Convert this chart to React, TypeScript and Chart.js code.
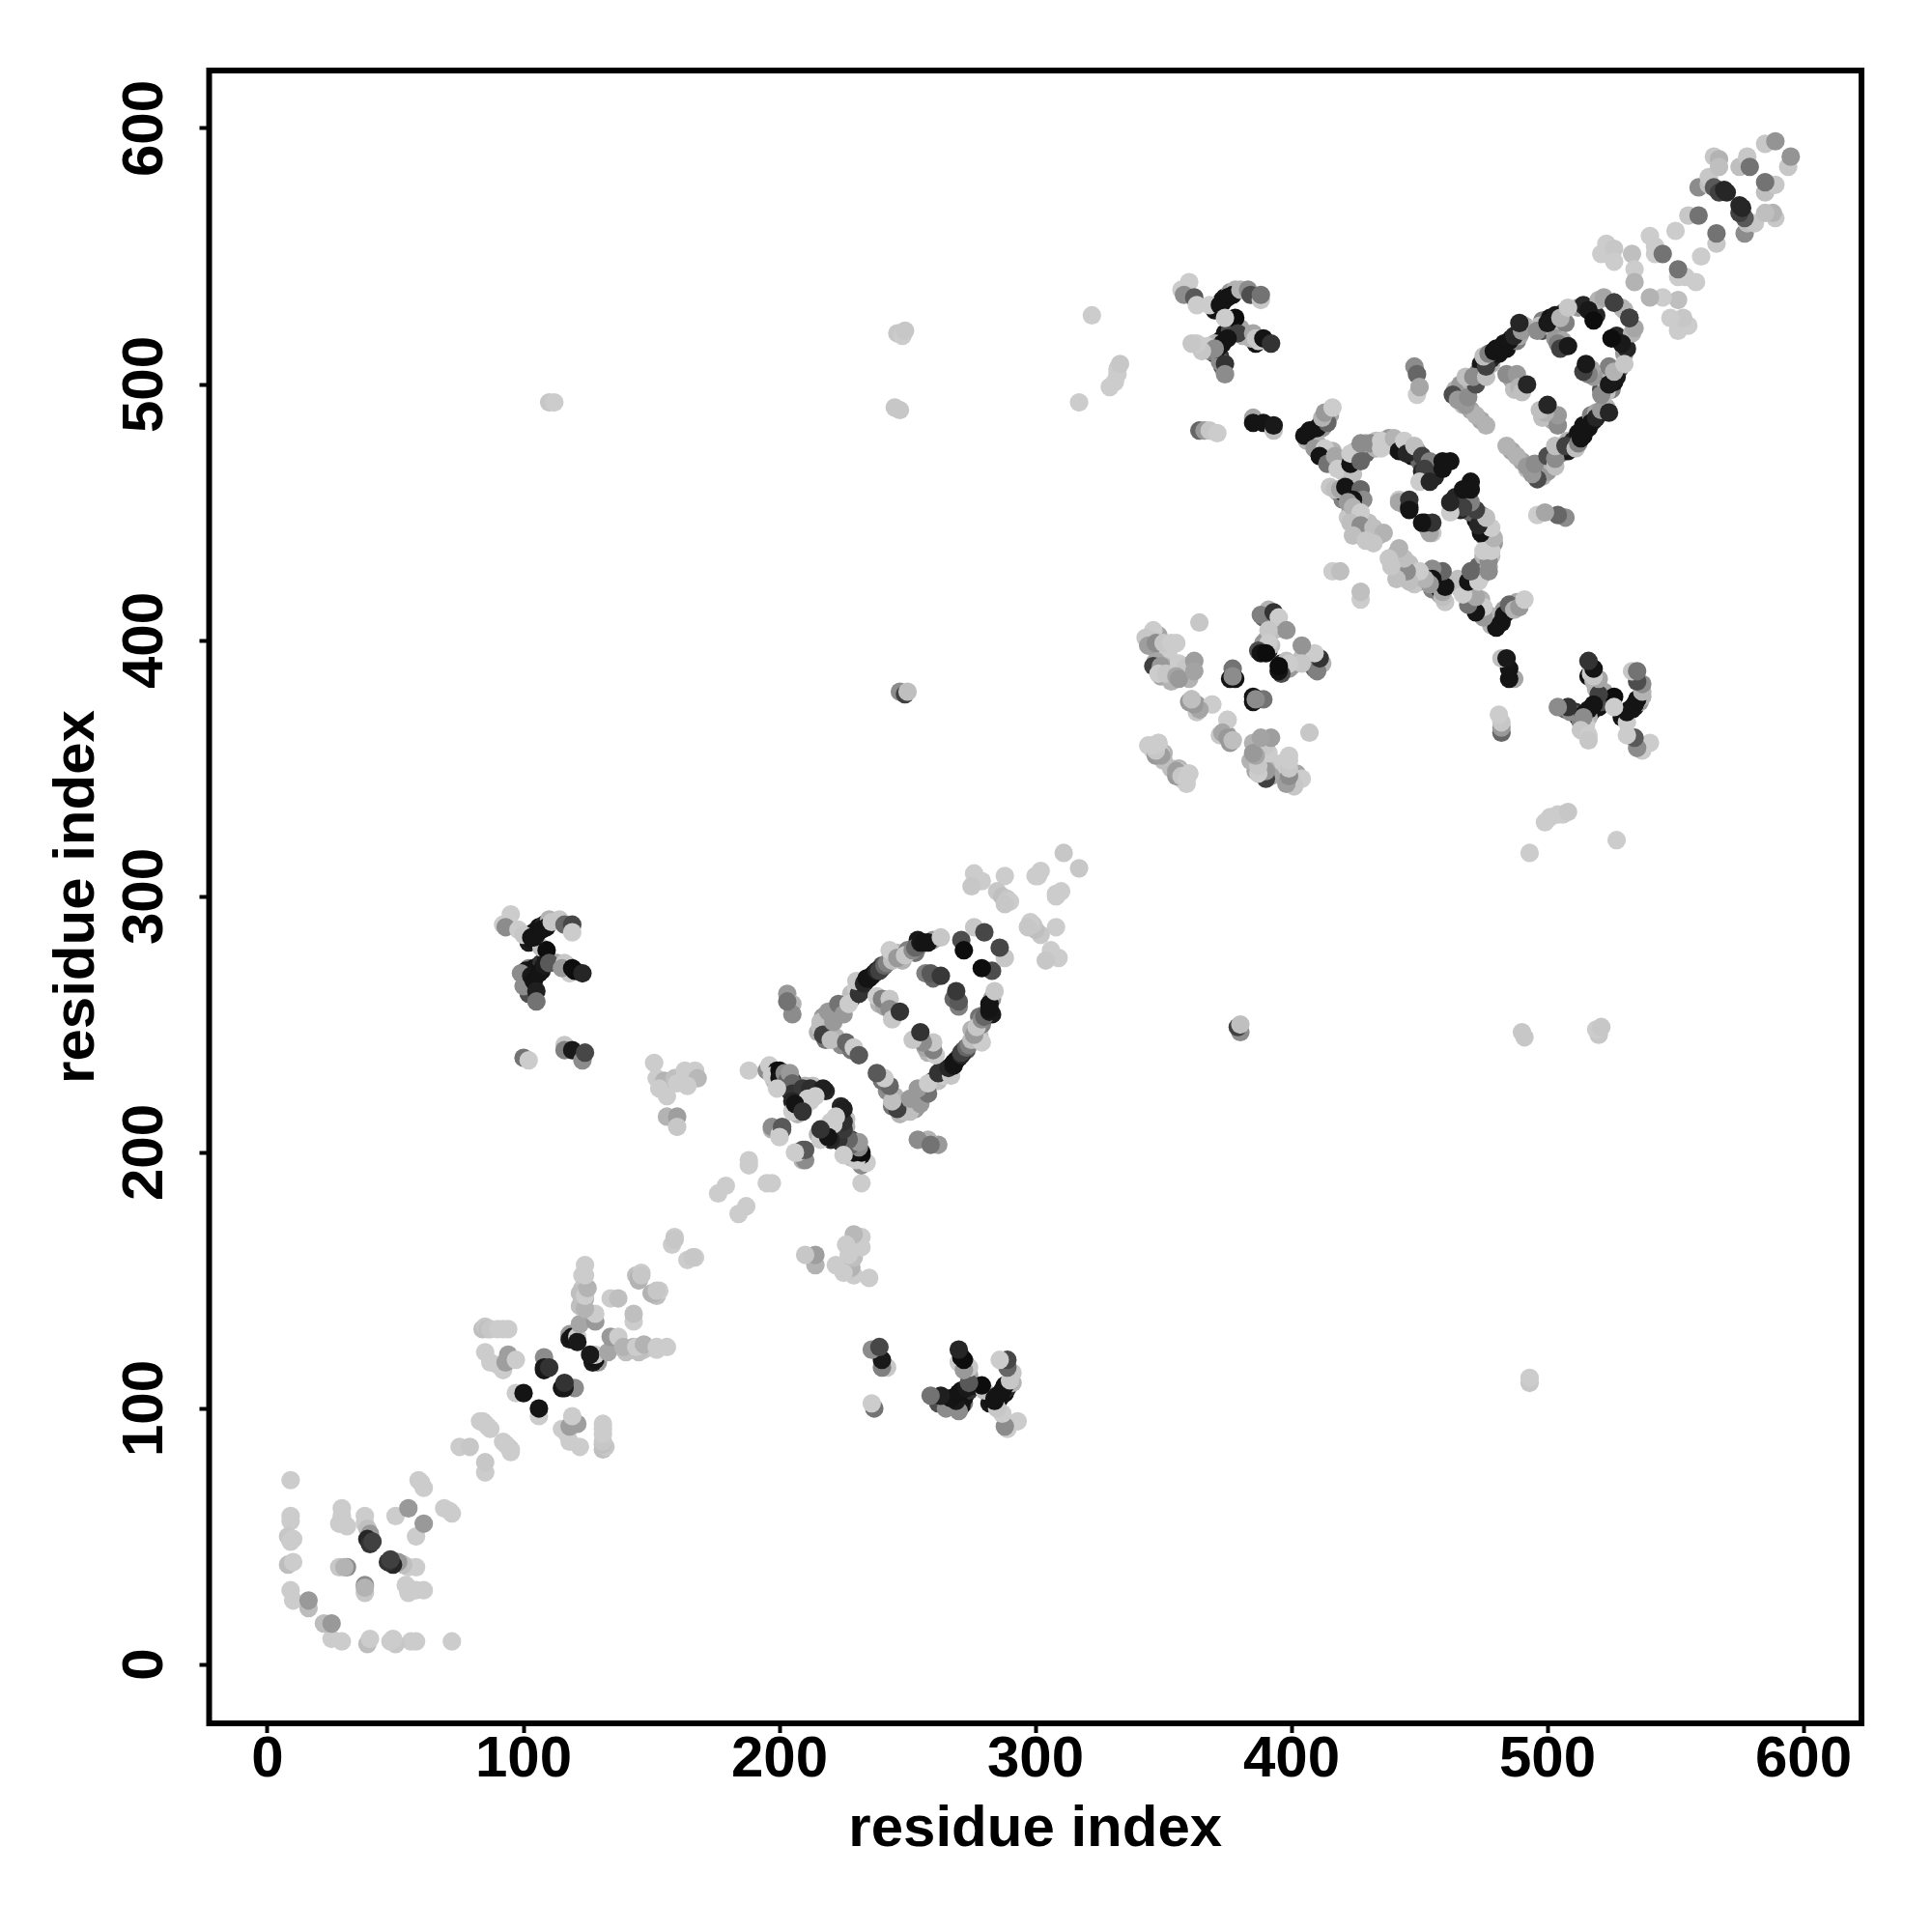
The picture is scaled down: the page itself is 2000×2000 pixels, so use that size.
import React, { useEffect, useRef } from "react";
import { Chart, registerables } from "chart.js";

Chart.register(...registerables);

type Contact = [number, number, number];

const tickValues = [0, 100, 200, 300, 400, 500, 600];
const axisTitle = "residue index";

const contactsN: Contact[] = [
  [9,72,.2],[9,58,.2],[9,56,.2],[8,50,.22],[10,49,.2],[9,48,.2],[8,39,.26],[10,40,.2],[9,29,.2],[10,25,.2],[16,22,.26],[16,25,.4],
  [28,38,.22],[31,38,.45],[30,38,.3],[29,61,.2],[29,58,.2],[28,55,.2],[30,55,.2],[31,54,.2],[38,58,.2],[38,55,.2],[39,53,.25],
  [40,51,.4],[39,49,.85],[40,47,.8],[41,48,.75],[50,58,.2],[55,61,.4],[59,72,.2],[60,71,.2],[61,69,.2],
];
const contactsA: Contact[] = [
  [75,85,.2],[79,85,.22],[84,95,.2],[85,94,.22],[86,93,.2],[87,92,.2],[83,95,.2],
  [84,131,.25],[85,132,.22],[86,131,.25],[87,131,.22],[90,131,.2],[92,131,.2],[94,131,.2],
  [85,122,.2],[87,118,.2],[92,115,.2],[90,117,.2],[94,121,.38],[93,118,.38],[97,119,.2],
  [97,106,.2],[100,106,.92],[108,120,.45],[108,115,.92],[108,116,.9],[110,116,.8],
  [118,129,.4],[119,127,.92],[118,127,.9],[119,128,.92],[121,128,.2],[121,126,.9],[122,133,.35],[128,134,.4],[128,137,.2],
  [124,156,.2],[123,152,.2],[123,147,.22],[122,145,.25],[124,143,.33],[122,140,.25],[124,139,.3],[124,144,.2],[125,147,.3],[124,152,.2],
  [134,143,.2],[137,143,.25],[144,152,.25],[146,153,.2],[145,151,.3],[145,150,.3],[146,152,.22],[159,167,.2],[158,164,.2],[159,166,.22],
];
const contactsB: Contact[] = [
  [176,184,.2],[179,187,.2],[188,197,.2],[188,195,.2],[188,232,.2],
  [151,235,.2],[152,229,.2],[154,227,.22],[155,228,.3],[159,229,.25],[167,232,.2],[163,232,.2],[168,229,.28],[164,226,.2],[160,227,.2],[153,225,.2],[156,222,.2],[156,214,.3],[160,214,.38],[160,210,.22],
  [195,232,.45],[196,234,.2],[199,232,.92],[197,230,.2],[200,232,.95],[200,229,.92],[202,231,.45],[203,228,.6],[205,228,.75],[204,231,.4],[205,227,.6],
  [205,223,.8],[209,225,.78],[205,220,.85],[209,217,.85],[205,216,.2],[212,225,.82],[217,225,.88],[214,222,.2],[211,221,.2],[212,220,.2],[199,225,.2],[206,219,.92],[209,216,.8],
  [197,209,.3],[197,210,.45],[201,210,.65],[200,207,.2],[201,209,.65],[200,206,.2],[203,262,.4],[205,258,.3],[205,254,.45],[203,259,.55],
];
const contactsBExtra: Contact[] = [
  [198,229,.6],[199,230,.3],[201,228,.92],[203,226,.92],[204,224,.85],[207,224,.5],[207,222,.9],[206,218,.7],[207,215,.3],[218,224,.85],[213,226,.25],[210,226,.3],
  [210,220,.25],[209,219,.8],[207,218,.9],[204,226,.55],[205,225,.7],[203,229,.85],[202,230,.9],[201,231,.4],[199,226,.22],[198,228,.25],
];
const contactsC: Contact[] = [
  [216,249,.25],[216,251,.25],[217,246,.75],[220,244,.25],[219,255,.4],[221,251,.4],[223,258,.55],[225,254,.4],[227,258,.2],[226,243,.6],[229,241,.2],[231,238,.65],
  [231,262,.8],[230,267,.22],[233,266,.85],[234,268,.92],[235,268,.92],[236,269,.92],[237,270,.92],[238,271,.85],[239,271,.75],[241,273,.6],[242,274,.5],[244,275,.25],[243,279,.2],[246,276,.4],[249,277,.22],[252,279,.45],[253,280,.6],[255,282,.9],[256,282,.92],[258,282,.92],[263,284,.22],
  [271,283,.7],[272,279,.95],[276,288,.22],[280,286,.72],
  [238,261,.2],[240,260,.5],[243,260,.22],[243,256,.45],[244,252,.22],[247,255,.8],[259,270,.65],[263,269,.78],
  [276,309,.2],[279,306,.2],[275,304,.22],[288,308,.2],[285,302,.22],[287,300,.25],[289,299,.22],[290,298,.2],[288,297,.22],
  [300,308,.2],[301,308,.2],[302,310,.2],[311,317,.22],
];
const contactsCExtra: Contact[] = [
  [217,253,.4],[218,250,.3],[219,248,.5],[220,252,.35],[222,256,.45],[224,256,.6],[226,258,.3],[228,260,.7],[228,262,.25],[230,264,.2],[232,263,.7],
  [218,244,.55],[222,245,.3],[224,242,.45],[228,240,.55],[215,247,.3],
  [240,272,.55],[244,277,.3],[246,278,.25],[248,275,.3],[250,279,.5],[254,280,.35],[253,278,.55],[254,283,.9],[260,283,.4],[240,273,.7],[245,276,.5],
  [239,258,.3],[241,257,.35],[245,254,.35],[257,270,.5],[260,268,.6],
];
const contactsD: Contact[] = [
  [95,293,.2],[92,289,.2],[93,288,.45],[98,287,.2],[100,285,.22],[103,284,.92],[104,284,.92],[105,285,.92],[107,287,.92],[109,288,.92],[111,290,.22],[114,291,.22],[116,289,.6],[119,289,.72],[119,286,.2],
  [109,279,.95],[99,270,.45],[100,265,.45],[103,269,.9],[104,267,.92],[105,263,.88],[105,259,.55],[106,270,.92],[107,271,.92],[108,273,.9],[110,274,.65],[116,274,.22],[118,270,.2],[115,272,.4],[119,272,.95],[120,271,.95],[123,270,.85],
  [100,237,.55],[102,236,.2],[116,242,.22],[116,240,.5],[119,240,.9],[123,236,.45],[124,239,.72],
];
const contactsDExtra: Contact[] = [
  [102,282,.9],[103,283,.92],[104,286,.92],[106,288,.92],[108,289,.85],[110,291,.3],[101,268,.6],[102,272,.5],[104,272,.92],[106,273,.92],[107,274,.8],[103,264,.5],[102,262,.7],[109,276,.92],[107,280,.25],[113,274,.35],[117,273,.6],[101,271,.92],
];
const contactsE: Contact[] = [
  [110,493,.22],[112,493,.2],[245,491,.22],[247,490,.22],[246,520,.22],[248,519,.2],[249,521,.22],[247,380,.45],[249,379,.75],[250,380,.25],
  [317,493,.2],[322,527,.2],[329,499,.2],[331,501,.2],[332,504,.2],[332,506,.2],[333,508,.22],
];
const contactsF: Contact[] = [
  [346,404,.2],[343,401,.22],[346,400,.22],[344,398,.38],[347,399,.45],[350,399,.22],[353,399,.2],[355,399,.2],[346,390,.75],[349,390,.4],[348,387,.2],[351,387,.22],[356,391,.2],[359,390,.22],[355,386,.35],[356,385,.4],[362,392,.38],[362,388,.36],[364,407,.22],
  [361,377,.2],[360,376,.4],[363,375,.38],[363,372,.22],[369,375,.2],[375,369,.2],[373,364,.35],[375,362,.4],[377,361,.25],
  [344,359,.2],[348,360,.2],[347,355,.4],[349,356,.22],[355,349,.38],[357,347,.22],[360,348,.2],[359,346,.2],
  [388,410,.5],[393,411,.8],[395,409,.2],[398,404,.42],[390,400,.4],[391,404,.22],[391,399,.2],[387,396,.7],[388,395,.92],[390,395,.95],
  [377,389,.55],[376,385,.92],[378,385,.92],[377,386,.45],
];
const contactsFExtra: Contact[] = [
  [345,402,.3],[348,402,.35],[352,396,.2],[350,390,.3],[354,388,.35],[358,388,.38],[360,385,.3],[347,392,.35],[349,386,.35],[353,384,.3],[346,357,.22],[347,357,.3],[353,350,.25],[356,350,.3],[389,409,.6],[391,412,.3],[395,405,.35],[393,404,.25],[392,407,.4],[389,399,.4],[391,396,.85],[392,398,.25],
];
const contactsG: Contact[] = [
  [360,540,.2],[357,537,.2],[358,535,.45],[362,534,.65],[363,531,.2],[368,531,.2],[372,531,.92],[373,532,.92],[375,534,.92],[377,535,.92],[380,537,.3],[383,537,.45],[384,535,.7],[388,533,.22],[388,535,.55],
  [378,526,.95],[374,526,.2],[379,520,.75],[375,518,.92],[373,516,.92],[371,514,.92],[370,514,.45],[365,513,.22],[363,516,.2],[361,516,.22],[374,508,.8],[374,504,.45],[385,520,.35],[386,518,.22],[389,518,.92],[392,516,.8],
  [364,482,.6],[366,482,.4],[368,482,.22],[371,481,.2],[385,487,.35],[385,485,.92],[389,485,.92],[393,482,.25],[393,484,.9],
  [448,507,.45],[449,504,.6],[449,496,.2],[450,499,.35],
];
const contactsGExtra: Contact[] = [
  [370,529,.92],[371,530,.92],[373,533,.92],[374,534,.9],[376,536,.4],[378,537,.3],[376,524,.92],[372,517,.92],[374,520,.92],[376,521,.7],[370,512,.92],[372,511,.8],[368,513,.5],[373,507,.6],[372,509,.45],[380,522,.35],[381,519,.3],[386,516,.92],[387,517,.2],[384,518,.3],[370,516,.3],[367,515,.2],
];
const contactsH: Contact[] = [
  [405,480,.92],[407,482,.92],[410,483,.92],[414,485,.6],[412,487,.3],[413,489,.4],[416,491,.2],
  [409,475,.4],[413,475,.2],[411,472,.92],[414,469,.55],[417,472,.35],[418,467,.2],[424,465,.25],[423,469,.92],[423,473,.2],[427,470,.6],[427,477,.45],[431,477,.45],[435,478,.2],[435,475,.2],[440,479,.3],[442,474,.92],[444,478,.2],[445,473,.85],[448,476,.25],[451,472,.75],[454,470,.5],[452,467,.75],[450,462,.2],[454,462,.85],[459,470,.92],[462,470,.92],[459,467,.92],
  [417,459,.25],[419,459,.35],[421,460,.92],[427,459,.6],[428,455,.45],[424,455,.92],[422,454,.4],[424,452,.3],[427,450,.2],[423,446,.25],[427,445,.45],[424,441,.25],[432,444,.25],[436,442,.3],[429,439,.22],[432,438,.22],
  [442,455,.22],[444,453,.3],[442,454,.35],[446,452,.92],[446,455,.8],[446,451,.92],[416,427,.2],[419,427,.25],
];
const contactsHExtra: Contact[] = [
  [407,479,.8],[409,481,.92],[411,484,.75],[412,483,.4],[415,488,.35],[406,478,.3],
  [410,477,.3],[412,474,.85],[413,472,.7],[415,470,.35],[416,474,.3],[419,470,.45],[420,466,.22],[422,466,.3],[422,471,.9],[425,470,.4],[425,474,.3],[429,473,.6],[429,477,.35],[433,478,.25],[433,475,.3],[437,477,.25],[438,479,.4],[441,475,.5],[443,476,.7],[446,475,.3],[447,472,.92],[449,474,.5],[450,470,.6],[451,466,.85],[452,463,.25],[456,464,.85],[454,466,.7],[453,469,.7],
  [415,460,.22],[418,458,.4],[420,455,.5],[420,458,.92],[422,457,.9],[425,458,.45],[425,453,.25],[426,456,.55],[428,447,.25],[425,444,.22],[429,443,.3],[430,446,.25],[434,441,.3],[425,448,.4],[423,450,.4],[422,448,.22],[430,441,.25],
];
const contactsI: Contact[] = [
  [476,484,.3],[472,488,.3],[468,492,.4],[463,496,.7],[465,494,.4],[469,495,.45],[472,500,.7],[468,503,.25],[471,503,.45],[476,503,.25],[476,507,.75],[475,511,.25],[477,512,.5],[479,513,.92],[482,514,.92],[485,517,.92],[487,519,.85],[490,521,.4],[489,524,.85],[497,523,.25],[496,521,.45],[500,524,.9],[503,527,.9],[505,526,.3],[508,530,.22],[516,529,.9],[518,525,.95],[522,534,.35],[526,532,.8],[526,532,.75],
  [484,504,.45],[488,504,.4],[489,499,.3],[490,497,.25],[492,500,.85],[504,516,.5],[505,514,.75],[508,515,.9],
  [523,555,.2],[521,551,.2],[526,553,.22],[526,548,.2],[533,551,.25],[534,545,.2],[534,540,.3],[540,558,.2],[542,554,.2],[542,551,.2],[545,551,.55],[550,560,.2],
  [555,566,.22],[559,566,.55],[559,577,.45],[563,578,.25],[563,581,.22],[565,577,.65],[567,575,.75],[569,576,.85],[570,575,.85],
  [565,589,.22],[567,588,.3],[567,585,.25],[575,585,.25],[578,589,.22],[579,585,.55],[585,594,.22],[589,595,.42],
];
const contactsIExtra: Contact[] = [
  [466,498,.6],[464,498,.3],[467,492,.25],[470,490,.35],[469,498,.55],[474,486,.35],[466,500,.4],[470,501,.3],[473,505,.5],[474,508,.9],[478,508,.3],[478,510,.85],[480,514,.92],[481,512,.92],[483,516,.92],[484,514,.92],[486,518,.92],[488,517,.5],[489,519,.35],[491,523,.3],[498,521,.7],[498,525,.5],[501,526,.92],[502,522,.3],[506,528,.6],[507,524,.5],[512,530,.4],[514,531,.85],[519,527,.85],[520,533,.3],[529,530,.3],
  [486,502,.35],[487,498,.25],[503,518,.4],[506,517,.35],
];

const allContacts: Contact[] = [
  ...contactsN, ...contactsA, ...contactsBExtra, ...contactsB, ...contactsCExtra, ...contactsC, ...contactsDExtra, ...contactsD,
  ...contactsE, ...contactsFExtra, ...contactsF, ...contactsGExtra, ...contactsG, ...contactsHExtra, ...contactsH, ...contactsIExtra, ...contactsI,
];

const shade = (score: number) => {
  const g = Math.round(255 * (1 - score));
  return `rgb(${g},${g},${g})`;
};

export default function App() {
  const ref = useRef<HTMLCanvasElement>(null);
  useEffect(() => {
    document.body.style.margin = "0";
    const points: { x: number; y: number }[] = [];
    const colors: string[] = [];
    for (const [i, j, s] of allContacts) {
      points.push({ x: i, y: j }, { x: j, y: i });
      colors.push(shade(s), shade(s));
    }
    const font = { family: "'Liberation Sans', Arial, sans-serif", size: 60, weight: "bold" as const, lineHeight: 1 };
    const frame = {
      id: "frame",
      afterDraw(c: Chart) {
        const { left, right, top, bottom } = c.chartArea;
        const ctx = c.ctx;
        ctx.save();
        ctx.strokeStyle = "#000";
        ctx.lineWidth = 6;
        ctx.strokeRect(left, top, right - left, bottom - top);
        ctx.restore();
      },
    };
    const grid = { drawOnChartArea: false, drawTicks: true, tickLength: 10, tickWidth: 4, tickColor: "#000" };
    const chart = new Chart(ref.current!, {
      type: "scatter",
      data: {
        datasets: [
          {
            data: points,
            backgroundColor: colors,
            borderWidth: 0,
            pointRadius: 9.6,
            pointHoverRadius: 9.6,
          },
        ],
      },
      plugins: [frame],
      options: {
        responsive: false,
        animation: false,
        layout: { padding: { top: 73, right: 73, left: 0, bottom: 0 } },
        plugins: { legend: { display: false }, tooltip: { enabled: false } },
        scales: {
          x: {
            type: "linear",
            min: -22.83,
            max: 622.64,
            afterFit: (s: any) => { s.height = 216; },
            afterBuildTicks: (s: any) => { s.ticks = tickValues.map((value) => ({ value })); },
            border: { display: false },
            grid,
            ticks: { color: "#000", font, padding: -2, maxRotation: 0, minRotation: 0, callback: (v: any) => String(v) },
            title: { display: true, text: axisTitle, color: "#000", font, padding: { top: 0, bottom: 76 } },
          },
          y: {
            type: "linear",
            min: -23,
            max: 622.64,
            afterFit: (s: any) => { s.width = 216.5; },
            afterBuildTicks: (s: any) => { s.ticks = tickValues.map((value) => ({ value })); },
            border: { display: false },
            grid,
            ticks: { color: "#000", font, padding: 5, minRotation: 90, maxRotation: 90, crossAlign: "center", callback: (v: any) => String(v) },
            title: { display: true, text: axisTitle, color: "#000", font, padding: { top: 50, bottom: 0 } },
          },
        },
      },
    } as any);
    return () => chart.destroy();
  }, []);
  return <canvas ref={ref} width={2000} height={2000} style={{ display: "block" }} />;
}
